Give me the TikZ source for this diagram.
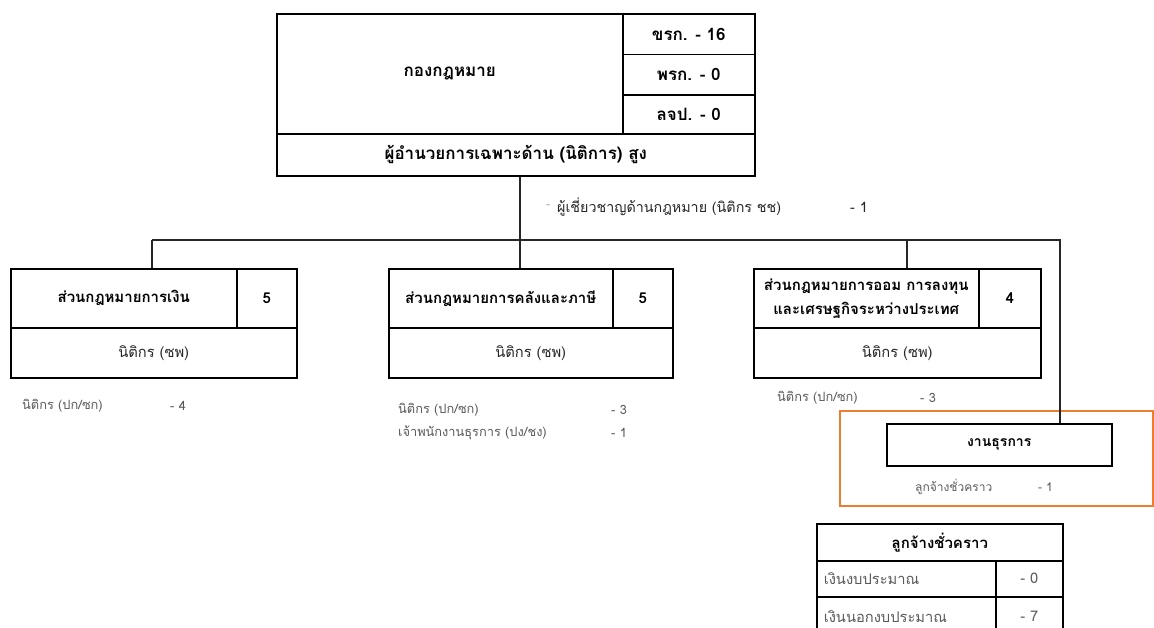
\documentclass[tikz,border=0pt]{standalone}
\usepackage{fontspec}
\setmainfont[Script=Thai]{Loma}
\usepackage{tikz}
\definecolor{boxorange}{HTML}{ED7D31}
\definecolor{stafftext}{HTML}{595959}
\def\TopTitle{กองกฎหมาย}
\def\TopHead{ผู้อำนวยการเฉพาะด้าน (นิติการ) สูง}
\def\LawyerSP{นิติกร (ซพ)}
\def\LawyerPK{นิติกร (ปก/ซก)}
\def\TempStaff{ลูกจ้างชั่วคราว}

\begin{document}
\begin{tikzpicture}
[x=1pt,y=-1pt,
cellnode/.style={inner sep=1pt,rectangle,draw,line width=1.5pt,anchor=north west,
font=\fontsize{15}{18}\selectfont\bfseries},
topcell/.style={cellnode,font=\fontsize{17}{20}\selectfont\bfseries},
plaincell/.style={cellnode,font=\fontsize{14.7}{17}\selectfont,text=black!85},
staffnode/.style={inner sep=0pt,anchor=west,text=stafftext,
font=\fontsize{12.8}{15}\selectfont},
link/.style={line width=1.2pt,draw=black!85}
]
\clip (0,0) rectangle (1154,627);
\node [topcell,minimum width=346pt,minimum height=120pt] (T0) at (276,13) {\TopTitle};
\node [topcell,minimum width=132pt,minimum height=40.5pt] (T1) at (622,13) {ขรก. - 16};
\node [topcell,minimum width=132pt,minimum height=40.5pt] (T2) at (622,53.5) {พรก. - 0};
\node [topcell,minimum width=132pt,minimum height=39pt] (T3) at (622,94) {ลจป. - 0};
\node [topcell,minimum width=478pt,minimum height=42pt] (T4) at (276,133) {\TopHead};
\node [staffnode,text=black!30] (E0) at (546,207) {-};
\node [staffnode,text=black!85,font=\fontsize{14.3}{17}\selectfont] (E1) at (557,207)
{ผู้เชี่ยวชาญด้านกฎหมาย (นิติกร ชช)};
\node [staffnode,text=black!85,font=\fontsize{14.3}{17}\selectfont] (E2) at (850,207) {- 1};
\begin{scope}
\node [cellnode,minimum width=226pt,minimum height=59pt] (L0) at (10,268) {ส่วนกฎหมายการเงิน};
\node [cellnode,minimum width=60pt,minimum height=59pt] (L1) at (236,268) {5};
\node [plaincell,minimum width=286pt,minimum height=50pt] (L2) at (10,327) {\LawyerSP};
\node [staffnode] (LS0) at (22,406) {\LawyerPK};
\node [staffnode] (LN0) at (170,406) {- 4};
\end{scope}
\begin{scope}
\node [cellnode,minimum width=224pt,minimum height=59pt] (M0) at (388,268) {ส่วนกฎหมายการคลังและภาษี};
\node [cellnode,minimum width=60pt,minimum height=59pt] (M1) at (612,268) {5};
\node [plaincell,minimum width=284pt,minimum height=50pt] (M2) at (388,327) {\LawyerSP};
\node [staffnode] (MS0) at (398,410) {\LawyerPK};
\node [staffnode] (MN0) at (611,410) {- 3};
\node [staffnode] (MS1) at (398,433) {เจ้าพนักงานธุรการ (ปง/ชง)};
\node [staffnode] (MN1) at (611,433) {- 1};
\end{scope}
\begin{scope}
\node [cellnode,minimum width=225pt,minimum height=59pt,align=center,
font=\fontsize{15}{24}\selectfont\bfseries] (R0) at (753,268)
{ส่วนกฎหมายการออม การลงทุน\\และเศรษฐกิจระหว่างประเทศ};
\node [cellnode,minimum width=62pt,minimum height=59pt] (R1) at (978,268) {4};
\node [plaincell,minimum width=287pt,minimum height=50pt] (R2) at (753,327) {\LawyerSP};
\node [staffnode] (RS0) at (777,398) {\LawyerPK};
\node [staffnode] (RN0) at (920,398) {- 3};
\end{scope}
\draw [boxorange,line width=1.5pt] (840,411) rectangle (1153,506);
\node [cellnode,minimum width=225pt,minimum height=42pt,font=\fontsize{14}{17}\selectfont\bfseries]
(G0) at (886,423) {งานธุรการ};
\node [staffnode,font=\fontsize{12}{14}\selectfont] (GS0) at (915,487) {\TempStaff};
\node [staffnode,font=\fontsize{12}{14}\selectfont] (GN0) at (1038,487) {- 1};
\begin{scope}
\node [cellnode,minimum width=246pt,minimum height=37pt] (B0) at (816,523) {\TempStaff};
\node [plaincell,minimum width=179pt,minimum height=36pt,text width=165pt,align=left,
inner xsep=7pt,text=stafftext] (B1) at (816,560) {เงินงบประมาณ};
\node [plaincell,minimum width=67pt,minimum height=36pt,text=stafftext] (B2) at (995,560) {- 0};
\node [plaincell,minimum width=179pt,minimum height=40pt,text width=165pt,align=left,
inner xsep=7pt,text=stafftext] (B3) at (816,596) {เงินนอกงบประมาณ};
\node [plaincell,minimum width=67pt,minimum height=40pt,text=stafftext] (B4) at (995,596) {- 7};
\end{scope}
\coordinate (J0) at (520,240);
\coordinate (J1) at (152,240);
\coordinate (J2) at (907,240);
\coordinate (J3) at (1060,240);
\draw [link] (T4.south -| J0) -- (M0.north -| J0);
\draw [link] (J1) -- (J3) -- (G0.north -| J3);
\draw [link] (J1) -- (L0.north -| J1);
\draw [link] (J2) -- (R0.north -| J2);
\end{tikzpicture}
\end{document}
